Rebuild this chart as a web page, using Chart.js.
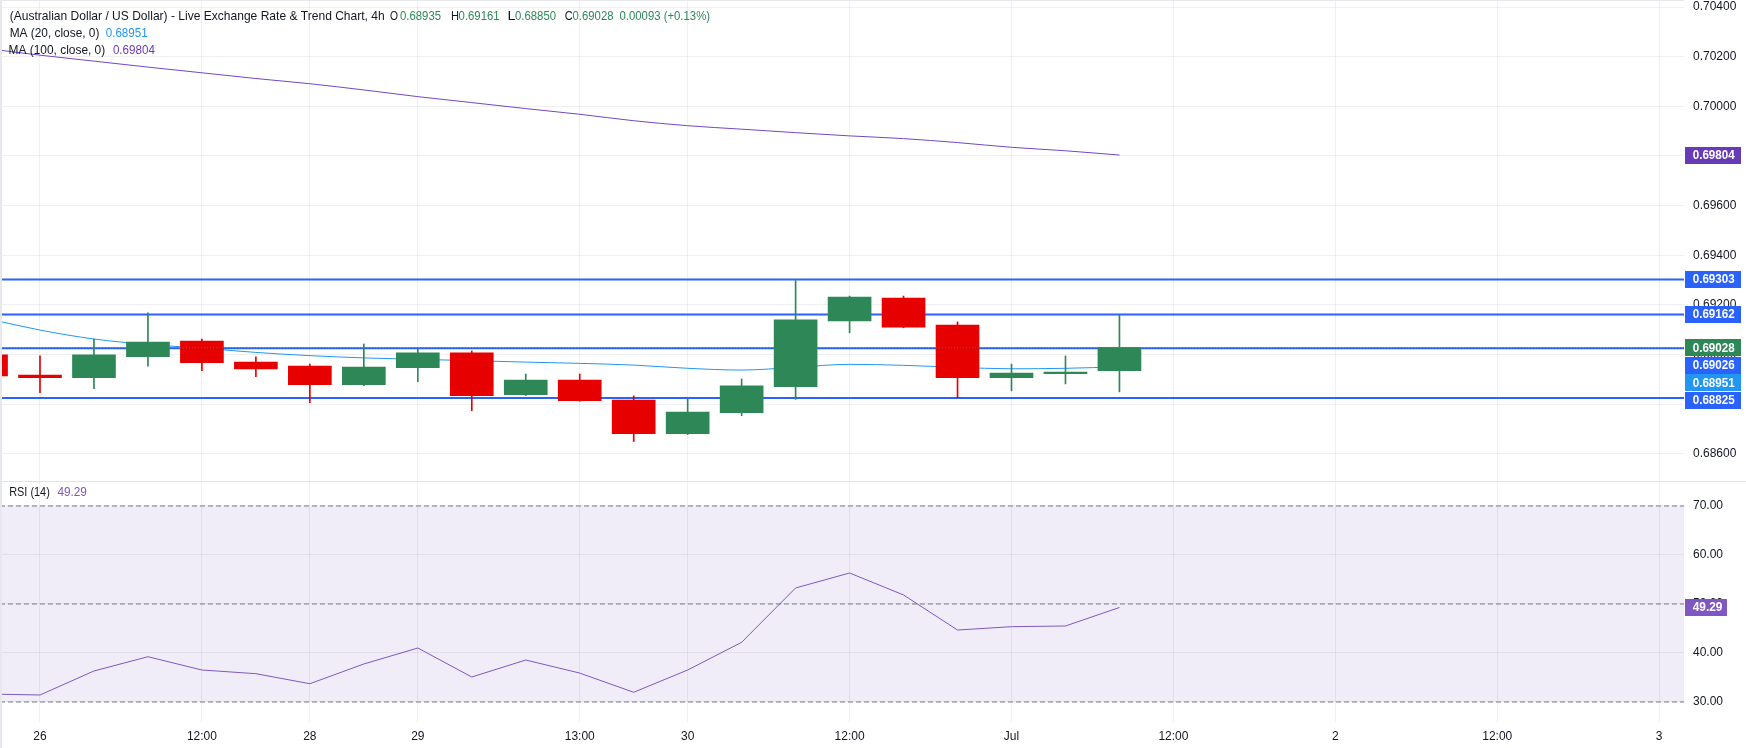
<!DOCTYPE html>
<html><head><meta charset="utf-8">
<script src="https://cdn.jsdelivr.net/npm/chart.js@4.4.1/dist/chart.umd.min.js"></script>
<style>
html,body{margin:0;padding:0;background:#fff;overflow:hidden;}
#wrap{position:relative;width:1746px;height:748px;background:#fff;}
canvas{position:absolute;left:0;display:block;}
#c1{top:0;} #c2{top:481px;}
</style></head><body>
<div id="wrap"><canvas id="c1" width="1746" height="481"></canvas><canvas id="c2" width="1746" height="267"></canvas></div>
<script>
// ---------- DATA ----------
const candleIndex = [0,1,2,3,4,5,6,7,8,9,10,11,12,13,14,15,16,17,18,19,20,21];
const openP  = [0.68999,0.68918,0.68907,0.68992,0.69055,0.68970,0.68954,0.68879,0.68948,0.69007,0.68839,0.68898,0.68817,0.68682,0.68766,0.68871,0.69136,0.69228,0.69119,0.68907,0.68923,0.68935];
const highP  = [0.69010,0.68995,0.69063,0.69168,0.69063,0.68991,0.68962,0.69043,0.69022,0.69015,0.68922,0.68922,0.68834,0.68820,0.68902,0.69298,0.69236,0.69236,0.69132,0.68962,0.68995,0.69161];
const lowP   = [0.68900,0.68847,0.68863,0.68954,0.68935,0.68911,0.68807,0.68875,0.68891,0.68774,0.68835,0.68812,0.68650,0.68678,0.68754,0.68820,0.69088,0.69108,0.68827,0.68854,0.68882,0.68850];
const closeP = [0.68914,0.68907,0.68999,0.69051,0.68968,0.68943,0.68879,0.68950,0.69007,0.68835,0.68898,0.68815,0.68682,0.68769,0.68874,0.69140,0.69232,0.69111,0.68907,0.68926,0.68930,0.69028];
const ma20   = [0.69146,0.69099,0.69063,0.69041,0.69026,0.69009,0.68996,0.68987,0.68981,0.68976,0.68970,0.68965,0.68958,0.68945,0.68938,0.68949,0.68961,0.68957,0.68949,0.68943,0.68945,0.68951];
const ma100  = [0.70233,0.70206,0.70182,0.70158,0.70135,0.70112,0.70091,0.70066,0.70039,0.70015,0.69991,0.69968,0.69942,0.69922,0.69908,0.69894,0.69881,0.69870,0.69854,0.69835,0.69821,0.69804];
const rsi14  = [31.63,31.43,36.33,39.24,36.53,35.78,33.73,37.76,41.02,35.10,38.57,35.90,31.98,36.53,42.18,53.27,56.33,51.84,44.69,45.37,45.51,49.29];
const levelPrices = [0.69303,0.69162,0.69026,0.68825];
const lastClose = 0.69028;
const rsiLevels = [70,50,30];
const priceTicks = [0.686,0.688,0.690,0.692,0.694,0.696,0.698,0.700,0.702,0.704];
const rsiTicks = [30,40,50,60,70];
const xTickPos = [1,4,6,8,11,13,16,19,22,25,28,31];
const xTickLabels = ['26','12:00','28','29','13:00','30','12:00','Jul','12:00','2','12:00','3'];
const X_MIN = 0.259, X_MAX = 31.46;
const P_MIN = 0.684912, P_MAX = 0.704282;
const R_MIN = 25.918, R_MAX = 75.102;

const titleText = '(Australian Dollar / US Dollar) - Live Exchange Rate & Trend Chart, 4h';
const ohlcLetters = ['O','H','L','C'];
const ohlcValues = ['0.68935','0.69161','0.68850','0.69028'];
const changeText = '0.00093 (+0.13%)';

// ---------- STYLE ----------
const FONT = '"Liberation Sans", Arial, sans-serif';
const GREEN = '#2E8756', RED = '#E60000', BLUE = '#2962FF';
const GRID = 'rgba(42,46,57,0.07)';
const TXT = '#131722';
Chart.defaults.font.family = FONT;
Chart.defaults.font.size = 12;
Chart.defaults.color = TXT;

function fitText(ctx, txt, x, y, w, color, font) {
  ctx.save();
  ctx.font = font; ctx.fillStyle = color; ctx.textBaseline = 'middle'; ctx.textAlign = 'left';
  const m = ctx.measureText(txt).width;
  ctx.translate(x, y);
  if (w) ctx.scale(w / m, 1);
  ctx.fillText(txt, 0, 0);
  ctx.restore();
}

function xScale(showLabels, h) {
  return {
    type: 'linear', min: X_MIN, max: X_MAX, offset: false,
    afterBuildTicks: s => { s.ticks = xTickPos.map(v => ({value: v})); },
    ticks: {display: showLabels, autoSkip: false, maxRotation: 0, minRotation: 0, padding: 7,
            color: TXT, font: {size: 12}, callback: (v, i) => xTickLabels[i]},
    grid: {color: GRID, drawTicks: false, offset: false},
    border: {display: false},
    afterFit: s => { s.height = h; s.paddingLeft = 0; s.paddingRight = 0; }
  };
}
function yScale(min, max, ticks, dec) {
  return {
    type: 'linear', position: 'right', min: min, max: max,
    afterBuildTicks: s => { s.ticks = ticks.map(v => ({value: v})); },
    ticks: {padding: 9, crossAlign: 'near', color: TXT, font: {size: 12}, callback: v => Number(v).toFixed(dec)},
    grid: {color: GRID, drawTicks: false},
    border: {display: false},
    afterFit: s => { s.width = 62; s.paddingTop = 0; s.paddingBottom = 0; }
  };
}

const candleColors = candleIndex.map(i => closeP[i] >= openP[i] ? GREEN : RED);

// ---------- PRICE CHART ----------
const priceDatasets = [];
levelPrices.forEach(p => priceDatasets.push({
  type: 'line', data: [{x: X_MIN, y: p}, {x: X_MAX, y: p}], borderColor: BLUE, borderWidth: 2,
  pointRadius: 0, order: 8
}));
priceDatasets.push({type: 'line', data: candleIndex.map(i => ({x: i, y: ma100[i]})), borderColor: '#7446C4',
  borderWidth: 1, pointRadius: 0, cubicInterpolationMode: 'monotone', order: 7});
priceDatasets.push({type: 'line', data: candleIndex.map(i => ({x: i, y: ma20[i]})), borderColor: '#2196F3',
  borderWidth: 1, pointRadius: 0, cubicInterpolationMode: 'monotone', order: 6});
priceDatasets.push({type: 'bar', data: candleIndex.map(i => ({x: i, y: [lowP[i], highP[i]]})),
  backgroundColor: candleColors, borderWidth: 0, grouped: false, barThickness: 1, maxBarThickness: 1, order: 5});
priceDatasets.push({type: 'bar', data: candleIndex.map(i => ({x: i, y: [openP[i], closeP[i]]})),
  backgroundColor: candleColors, borderWidth: 0, grouped: false, barThickness: 43, maxBarThickness: 43, order: 4});
priceDatasets.push({type: 'line', data: [{x: X_MIN, y: lastClose}, {x: X_MAX, y: lastClose}], borderColor: GREEN,
  borderWidth: 1, borderDash: [1, 2], pointRadius: 0, order: 1});

const priceOverlay = {
  id: 'priceOverlay',
  afterDraw(chart) {
    const ctx = chart.ctx, ys = chart.scales.y;
    // borders
    ctx.fillStyle = '#E6E8EE';
    ctx.fillRect(0, 0, 1684, 1);
    ctx.fillRect(0, 0, 2, 481);
    // legend
    const f = '13px ' + FONT;
    fitText(ctx, titleText, 9.7, 16.5, 375, TXT, f);
    const lx = [390, 451, 507.5, 564.7], vx = [400, 458.6, 515, 572.5];
    ohlcLetters.forEach((l, k) => {
      fitText(ctx, l, lx[k], 16.5, 8, TXT, f);
      fitText(ctx, ohlcValues[k], vx[k], 16.5, 41, GREEN, f);
    });
    fitText(ctx, changeText, 619.5, 16.5, 90.5, GREEN, f);
    fitText(ctx, 'MA (20, close, 0)', 9.7, 33.5, 89.7, TXT, f);
    fitText(ctx, ma20[ma20.length - 1].toFixed(5), 105.7, 33.5, 42, '#2196F3', f);
    fitText(ctx, 'MA (100, close, 0)', 8.6, 50.5, 96.6, TXT, f);
    fitText(ctx, ma100[ma100.length - 1].toFixed(5), 112.9, 50.5, 42, '#673AB7', f);
    // right price labels
    const items = [
      {v: ma100[ma100.length - 1], c: '#673AB7'},
      {v: levelPrices[0], c: BLUE},
      {v: levelPrices[1], c: BLUE},
      {v: lastClose, c: GREEN},
      {v: levelPrices[2], c: BLUE},
      {v: ma20[ma20.length - 1], c: '#2196F3'},
      {v: levelPrices[3], c: BLUE}
    ].map(o => Object.assign(o, {py: ys.getPixelForValue(o.v)})).sort((a, b) => a.py - b.py);
    for (let k = 1; k < items.length; k++) {
      if (items[k].py < items[k - 1].py + 17.5) items[k].py = items[k - 1].py + 17.5;
    }
    items.forEach(o => {
      ctx.fillStyle = o.c;
      ctx.fillRect(1685, Math.round(o.py - 8.5), 56, 17);
      fitText(ctx, o.v.toFixed(5), 1692.7, o.py + 0.5, 42, '#FFFFFF', 'bold 12px ' + FONT);
    });
  }
};

new Chart(document.getElementById('c1'), {
  type: 'bar',
  data: {datasets: priceDatasets},
  options: {
    responsive: false, maintainAspectRatio: false, animation: false, devicePixelRatio: 1, events: [],
    layout: {padding: 0},
    plugins: {legend: {display: false}, tooltip: {enabled: false}, title: {display: false}},
    scales: {x: xScale(false, 0), y: yScale(P_MIN, P_MAX, priceTicks, 5)}
  },
  plugins: [priceOverlay]
});

// ---------- RSI CHART ----------
const rsiDatasets = [];
rsiLevels.forEach(v => rsiDatasets.push({
  data: [{x: X_MIN, y: v}, {x: X_MAX, y: v}], borderColor: '#787B86', borderWidth: 1, borderDash: [5, 3],
  pointRadius: 0, order: 3
}));
rsiDatasets.push({data: candleIndex.map(i => ({x: i, y: rsi14[i]})), borderColor: '#7E57C2', borderWidth: 1,
  pointRadius: 0, tension: 0, order: 1});

const rsiOverlay = {
  id: 'rsiOverlay',
  beforeDraw(chart) {
    const ctx = chart.ctx, ys = chart.scales.y, a = chart.chartArea;
    const t = ys.getPixelForValue(rsiLevels[0]), b = ys.getPixelForValue(rsiLevels[2]);
    ctx.save();
    ctx.fillStyle = 'rgba(126,87,194,0.11)';
    ctx.fillRect(a.left, t, a.right - a.left, b - t);
    ctx.restore();
  },
  afterDraw(chart) {
    const ctx = chart.ctx, ys = chart.scales.y;
    ctx.fillStyle = '#E0E3EB';
    ctx.fillRect(0, 0, 1746, 1);
    ctx.fillStyle = '#E6E8EE';
    ctx.fillRect(0, 1, 2, 267);
    const f = '13px ' + FONT;
    fitText(ctx, 'RSI (14)', 9.2, 11, 40.6, TXT, f);
    const last = rsi14[rsi14.length - 1];
    fitText(ctx, last.toFixed(2), 57.4, 11, 29.5, '#7E57C2', f);
    const py = ys.getPixelForValue(last);
    ctx.fillStyle = '#7E57C2';
    ctx.fillRect(1685, Math.round(py - 8.5), 42, 17);
    fitText(ctx, last.toFixed(2), 1692.7, py + 0.5, 29.7, '#FFFFFF', 'bold 12px ' + FONT);
  }
};

new Chart(document.getElementById('c2'), {
  type: 'line',
  data: {datasets: rsiDatasets},
  options: {
    responsive: false, maintainAspectRatio: false, animation: false, devicePixelRatio: 1, events: [],
    layout: {padding: 0},
    plugins: {legend: {display: false}, tooltip: {enabled: false}, title: {display: false}},
    scales: {x: xScale(true, 26), y: yScale(R_MIN, R_MAX, rsiTicks, 2)}
  },
  plugins: [rsiOverlay]
});
</script>
</body></html>
